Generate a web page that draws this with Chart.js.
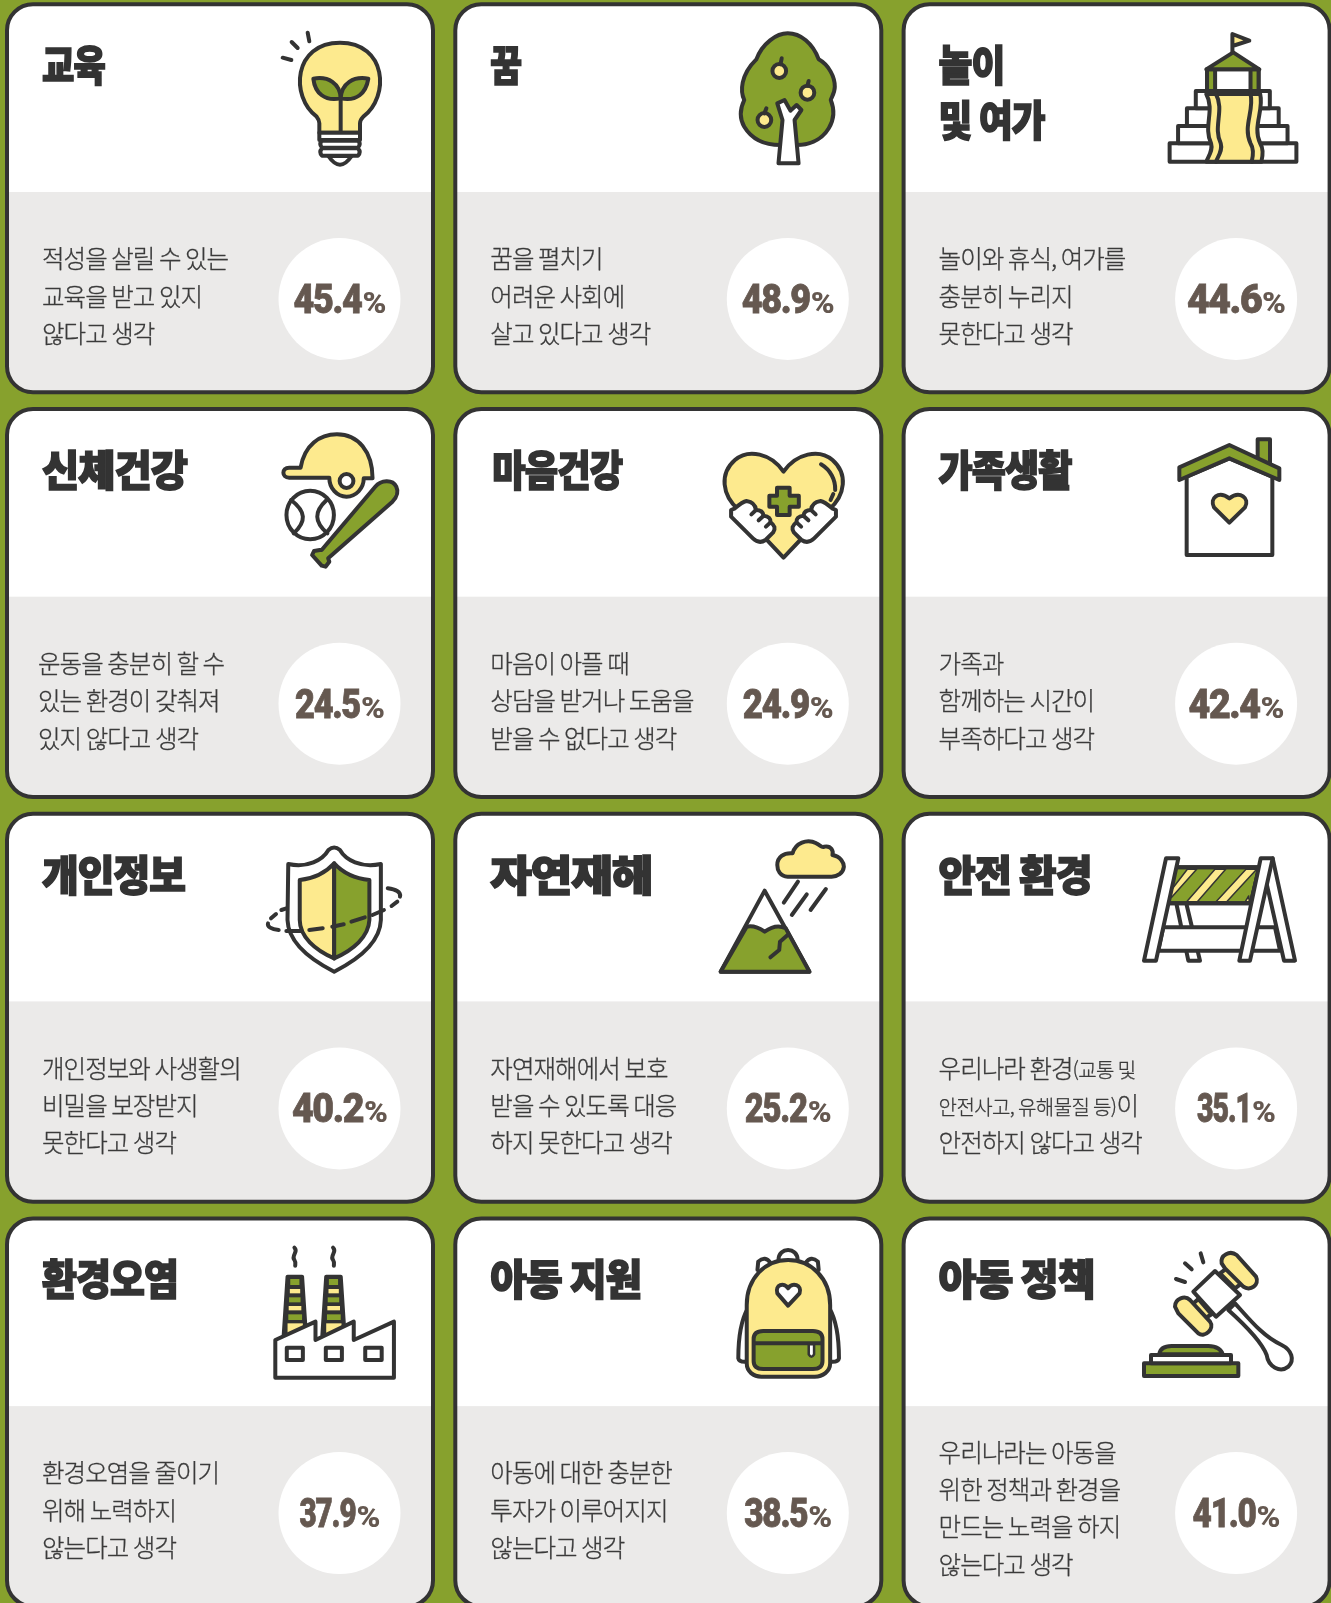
<!DOCTYPE html>
<html lang="ko"><head><meta charset="utf-8">
<style>html,body{margin:0;padding:0;background:#87a12d;overflow:hidden}canvas{display:block}</style>
<script src="https://cdn.jsdelivr.net/npm/chart.js@4/dist/chart.umd.min.js"></script>
</head><body><canvas id="c" width="1331" height="1603"></canvas>
<script>
const categories=['교육','꿈','놀이 및 여가','신체건강','마음건강','가족생활','개인정보','자연재해','안전 환경','환경오염','아동 지원','아동 정책'];
const titleLines=[['교육'],['꿈'],['놀이','및 여가'],['신체건강'],['마음건강'],['가족생활'],['개인정보'],['자연재해'],['안전 환경'],['환경오염'],['아동 지원'],['아동 정책']];
const titleFit=[[63],[31],[66,106],[145],[130],[133],[143],[162],[153],[136],[151],[156]];
const descLines=[
['적성을 살릴 수 있는','교육을 받고 있지','않다고 생각'],
['꿈을 펼치기','어려운 사회에','살고 있다고 생각'],
['놀이와 휴식, 여가를','충분히 누리지','못한다고 생각'],
['운동을 충분히 할 수','있는 환경이 갖춰져','있지 않다고 생각'],
['마음이 아플 때','상담을 받거나 도움을','받을 수 없다고 생각'],
['가족과','함께하는 시간이','부족하다고 생각'],
['개인정보와 사생활의','비밀을 보장받지','못한다고 생각'],
['자연재해에서 보호','받을 수 있도록 대응','하지 못한다고 생각'],
['우리나라 환경{(교통 및}','{안전사고, 유해물질 등)}이','안전하지 않다고 생각'],
['환경오염을 줄이기','위해 노력하지','않는다고 생각'],
['아동에 대한 충분한','투자가 이루어지지','않는다고 생각'],
['우리나라는 아동을','위한 정책과 환경을','만드는 노력을 하지','않는다고 생각']];
const values=[45.4,48.9,44.6,24.5,24.9,42.4,40.2,25.2,35.1,37.9,38.5,41.0];
const labelFit=[93,93,99,90,91,96,96,87,79,81,88,88];

const Y='#fdea8e',G='#87a12d',K='#333333',W='#ffffff';
const KR='"Noto Sans CJK KR"';
const e=(x,y,rx,ry)=>`M${x-rx} ${y}A${rx} ${ry} 0 1 0 ${x+rx} ${y}A${rx} ${ry} 0 1 0 ${x-rx} ${y}Z `;
const r=(a,b,c,d)=>`M${a} ${b}L${c} ${b}L${c} ${d}L${a} ${d}Z `;
const sz1=[0,0,3,3],sz2=[700,20,1568/631,3],sz3=[270,425,1568/600,3],sz4=[1150,430,3,3],sz5=[250,830,1568/600,3],sz6=[1130,840,3,3],sz7=[260,1235,1568/600,3],sz8=[1130,1235,3,3];
const chimney=d=>[
 [`M${72+d} 125L${110+d} 125L${120+d} 300L${62+d} 300Z`,K],
 [r(79+d,132,103+d,150),G,0],[r(78+d,162,105+d,175),Y,0],[r(76+d,187,106+d,202),G,0],[r(75+d,213,108+d,226),Y,0],[r(74+d,238,110+d,255),G,0],[r(72+d,265,112+d,295),Y,0],
 [`M${90+d} 38C${102+d} 50 ${80+d} 62 ${90+d} 75C${94+d} 82 ${92+d} 88 ${92+d} 92`,null]];
const icons=[
 [sz1,[
  ['M950 350C870 290 880 128 1020 128C1160 128 1170 290 1090 350Q1080 360 1080 370L1080 398L958 398L958 370Q958 360 950 350Z',Y],
  ['M1022 392L1022 285',null],
  ['M940 236C985 228 1020 250 1022 295C975 305 945 280 940 236Z',G],
  ['M1105 236C1060 228 1025 250 1022 295C1070 305 1098 280 1105 236Z',G],
  ['M985 468Q1020 520 1055 468Z',W],
  ['M958 398L1080 398L1080 420L958 420Z',W],
  ['M966 422L1074 422Q1084 432 1074 443L966 443Q956 432 966 422Z',W],
  ['M966 445L1074 445Q1084 456 1074 467L966 467Q956 456 966 445Z',W],
  ['M923 98L928 124M875 126L893 144M848 173L874 180',null]]],
 [sz2,[
  ['M140 118C155 70 190 40 218 40C250 40 280 70 295 118C320 135 335 170 335 200C335 220 325 235 325 240C335 270 335 295 320 325C300 365 265 375 240 375L200 375C165 375 130 360 110 320C98 295 100 265 110 240C100 215 100 165 140 118Z',G],
  ['M195 430L205 300L192 250L210 240L225 272L240 255L252 270L235 300L245 430Z',W],
  [e(197,153,17,21),Y],[e(267,218,17,21),Y],[e(160,300,17,21),Y],
  ['M200 133L203 115M267 197L270 183M160 280L165 265',null]]],
 [sz2,[
  [r(1167,370,1482,425),W],[r(1188,318,1460,370),W],[r(1210,265,1438,318),W],[r(1232,213,1416,265),W],
  [r(1260,148,1388,213),W],[r(1260,148,1280,213),G],[r(1368,148,1388,213),G],
  ['M1258 148L1325 97L1390 148Z',G],
  ['M1323 97L1323 42L1365 62L1323 78',Y],
  ['M1258 222C1280 270 1250 320 1270 370C1275 390 1265 405 1258 425L1395 425C1400 400 1400 385 1392 370C1372 320 1402 270 1392 222Z',Y],
  ['M1282 222C1304 270 1274 320 1294 370C1299 390 1289 405 1282 425M1368 222C1378 270 1348 320 1368 370C1376 385 1376 400 1371 425',null]]],
 [sz3,[
  ['M80 128C90 60 130 28 175 28C230 28 268 80 268 160L245 160C245 190 225 215 200 215C175 215 155 190 155 158L50 158C30 158 30 128 50 128Z',Y],
  [e(200,168,18,21),W],
  [e(105,270,62,73),W],
  ['M55 225C95 260 95 290 62 325M148 225C115 260 115 290 150 325',null],
  ['M135 375L275 185C290 165 320 162 330 185C338 205 330 218 320 230L152 400L155 410L145 425L135 422L110 390L115 378L130 375Z',G]]],
 [sz3,[
  ['M1342 140C1310 85 1250 70 1215 105C1175 145 1180 210 1225 255L1342 398L1460 255C1505 210 1510 145 1470 105C1435 70 1375 85 1342 140Z',Y],
  ['M1440 118C1465 135 1478 165 1477 195M1472 207L1465 225',null],
  ['M1325 188L1358 188L1358 212L1382 212L1382 245L1358 245L1358 270L1325 270L1325 245L1305 245L1305 212L1325 212Z',G],
  ['M1205 255L1205 275L1262 340Q1278 358 1295 345L1315 322Q1325 305 1308 292Q1310 275 1290 272Q1288 255 1270 255Q1268 232 1245 228Q1235 230 1215 250Z',W],
  ['M1479 255L1479 275L1422 340Q1406 358 1389 345L1369 322Q1359 305 1376 292Q1374 275 1394 272Q1396 255 1414 255Q1416 232 1439 228Q1449 230 1469 250Z',W],
  ['M1270 255L1258 268M1290 272L1277 286M1308 292L1296 305M1414 255L1426 268M1394 272L1407 286M1376 292L1388 305',null]]],
 [sz4,[
  [r(323,28,360,105),G],
  ['M110 140L110 375L367 375L367 140L238 85Z',W],
  ['M88 112L238 45L388 115L388 150L238 85L88 150Z',G],
  ['M238 278L192 232C178 205 205 180 238 205C270 180 300 205 285 232Z',Y]]],
 [sz5,[
  ['M100 102C150 115 190 90 205 60Q220 45 235 60C250 90 290 115 342 102L342 270C340 340 280 390 220 425C160 390 100 340 98 270Z',W],
  ['M220 100C200 125 170 145 130 150L130 270C130 320 170 360 220 385Z',Y],
  ['M220 100C240 125 270 145 312 150L312 270C310 320 270 360 220 385Z',G],
  ['M360 175C380 178 395 185 392 200M385 215L370 228M350 240L320 255M300 262L265 275M245 283L215 290M190 295L155 300M135 303L95 303M75 300C55 298 45 290 47 280M55 265L68 252M82 240L95 235',null]]],
 [sz5,[
  ['M1345 182L1462 425L1230 425Z',W],
  ['M1298 290Q1320 285 1345 305Q1375 280 1400 295L1462 425L1230 425Z',G],
  ['M1405 315L1385 335L1383 360L1360 382',null],
  ['M1405 140C1385 140 1378 120 1378 105C1378 80 1395 68 1418 70C1425 40 1455 25 1480 40C1490 45 1495 55 1500 50C1520 45 1525 65 1522 75C1545 80 1552 100 1552 110C1550 130 1535 140 1520 140Z',Y],
  ['M1432 155L1395 218M1455 193L1416 255M1505 177L1465 240',null]]],
 [sz6,[
  ['M140 195L175 362L210 362L170 195',W],
  ['M100 262L435 262L450 332L85 332Z',W],
  ['M135 82L388 82L362 190L112 190Z',G],
  ['M172 88L200 88L125 172L120 155Z',Y,1.5],['M255 88L287 88L202 185L170 185Z',Y,1.5],['M348 88L380 88L290 185L258 185Z',Y,1.5],['M356 168L358 185L346 185Z',Y,1.5],
  ['M135 82L388 82L362 190L112 190Z',null],
  ['M428 55L495 362L462 362L395 65',W],
  ['M392 55L428 55L360 362L328 362Z',W],
  ['M108 55L145 55L78 362L42 362Z',W]]],
 [sz7,[
  ...chimney(0),...chimney(101),
  ['M40 315L145 260L145 315L245 260L245 315L350 260L350 428L40 428Z',W],
  [r(70,338,112,375),W],[r(172,338,214,375),W],[r(275,338,318,375),W]]],
 [sz7,[
  ['M1355 75C1355 35 1405 35 1405 75',W],
  ['M1300 105L1302 80Q1320 60 1335 85',W],['M1460 105L1458 80Q1440 60 1425 85',W],
  ['M1275 220C1255 260 1250 310 1250 370Q1252 382 1272 380',W],['M1488 220C1508 260 1513 310 1513 370Q1511 382 1491 380',W],
  ['M1380 75C1440 75 1490 130 1490 210L1490 385C1490 410 1470 425 1450 425L1310 425C1290 425 1272 410 1272 385L1272 210C1272 130 1320 75 1380 75Z',Y],
  ['M1380 212L1352 175C1345 150 1370 140 1380 160C1390 140 1418 150 1410 175Z',W],
  ['M1315 288L1445 288Q1470 288 1470 312L1470 378Q1470 402 1445 402L1315 402Q1290 402 1290 378L1290 312Q1290 288 1315 288Z',G],
  ['M1292 325L1468 325',null],
  ['M1434 328L1434 358Q1441 372 1448 358L1448 328Z',W,2.5]]],
 [sz8,[
  [r(42,385,325,423),G],[r(63,360,303,385),W],
  ['M88 358C90 340 105 333 125 333L235 333C260 333 275 345 278 358Z',G],
  ['M295 225L315 205C360 255 400 305 455 330C485 345 495 375 475 395C450 415 415 395 410 360C395 320 345 270 295 225Z',W],
  ['M255 108L330 180L258 245L190 170Z',W],
  ['M205 192L245 238L225 250L185 210Z',Y],['M270 115L290 100L335 145L315 160Z',Y],
  ['M135 215C135 190 165 180 180 195L240 260C255 280 225 310 205 295L145 235Z',Y],
  ['M275 85C270 60 300 45 320 60L378 125C390 150 360 170 340 155L285 100Z',Y],
  ['M212 55L220 82M165 85L185 103M138 132L165 141',null]]]
];

function drawIcon(ctx,def){
 const [[ox,oy,sx,sy],shapes]=def;
 ctx.lineJoin='round';ctx.lineCap='round';ctx.strokeStyle=K;
 const m=new DOMMatrix([1/sx,0,0,1/sy,ox,oy]);
 for(const [d,fill,lw] of shapes){
  const p=new Path2D();p.addPath(new Path2D(d),m);
  if(fill){ctx.fillStyle=fill;ctx.fill(p);}
  const w=lw===undefined?4:lw;
  if(w>0){ctx.lineWidth=w;ctx.stroke(p);}
 }
}
function rr(ctx,x,y,w,h,rad){ctx.beginPath();ctx.roundRect(x,y,w,h,rad);}
function drawDesc(ctx,line,x,y){
 const parts=line.split(/(\{[^}]*\})/).filter(Boolean);
 let cx=x;
 ctx.strokeStyle=ctx.fillStyle;ctx.lineWidth=.3;ctx.lineJoin='round';
 for(const part of parts){
  const small=part[0]==='{';const t=small?part.slice(1,-1):part;
  ctx.font=(small?'300 20px ':'300 24.5px ')+KR;
  ctx.letterSpacing=small?'-0.6px':'-0.95px';
  ctx.strokeText(t,cx,y);ctx.fillText(t,cx,y);cx+=ctx.measureText(t).width;
 }
 ctx.letterSpacing='0px';
}
const cards={id:'cards',
 beforeDatasetsDraw(chart){
  const {ctx,scales:{x:sx,y:sy}}=chart;
  ctx.save();
  ctx.fillStyle=G;ctx.fillRect(0,0,chart.width,chart.height);
  chart.data.datasets[0].data.forEach((d,i)=>{
   const cx=sx.getPixelForValue(d.x),cy=sy.getPixelForValue(d.y);
   const L=cx-332.5,T=cy-294.7,w=426,h=388;
   rr(ctx,L,T,w,h,26);ctx.fillStyle=W;ctx.fill();
   ctx.save();rr(ctx,L,T,w,h,26);ctx.clip();
   ctx.fillStyle='#ebeae9';ctx.fillRect(L,cy-107,w,h);ctx.restore();
   rr(ctx,L,T,w,h,26);ctx.strokeStyle=K;ctx.lineWidth=4;ctx.stroke();
   ctx.fillStyle=K;ctx.textBaseline='alphabetic';ctx.textAlign='left';
   titleLines[i].forEach((t,k)=>{
    ctx.font='900 41px '+KR;ctx.letterSpacing='-1px';
    const f=titleFit[i][k]/ctx.measureText(t).width;
    ctx.save();ctx.translate(L+35+(i===4?2:0),T+77+k*55);ctx.scale(f,1.02);
    ctx.lineJoin='miter';ctx.lineWidth=1.6;ctx.strokeStyle=K;
    ctx.strokeText(t,0,0);ctx.fillText(t,0,0);ctx.restore();
   });
   ctx.letterSpacing='0px';
   ctx.fillStyle='#3a3a3a';
   const lines=descLines[i],mid=cy-7-(lines.length>3?2:0);
   lines.forEach((t,k)=>{drawDesc(ctx,t,(i===3?L+31:L+35),mid+(k-(lines.length-1)/2)*37.3+13.5);});
   drawIcon(ctx,icons[i]);
  });
  ctx.restore();
 },
 afterDatasetsDraw(chart){
  const {ctx}=chart;
  ctx.save();ctx.fillStyle='#655850';ctx.strokeStyle='#655850';ctx.textBaseline='alphabetic';ctx.textAlign='left';
  chart.getDatasetMeta(0).data.forEach((el,i)=>{
   const t=values[i].toFixed(1),total=labelFit[i],pctW=24,digW=total-pctW-1;
   ctx.font='900 40px Roboto';ctx.letterSpacing='-1.5px';
   const f=digW/ctx.measureText(t).width;
   const x0=el.x+.5-total/2,yb=el.y+14;
   ctx.save();ctx.translate(x0,yb);ctx.scale(f,1);ctx.lineWidth=.8;ctx.strokeText(t,0,0);ctx.fillText(t,0,0);ctx.restore();
   ctx.font='900 31px Roboto';ctx.letterSpacing='0px';
   const g=pctW/ctx.measureText('%').width;
   ctx.save();ctx.translate(x0+digW+1,yb);ctx.scale(g,.95);ctx.fillText('%',0,0);ctx.restore();
  });
  ctx.restore();
 }
};
const pitchX=448.3,pitchY=404.7,c0x=339.5,c0y=299;
new Chart(document.getElementById('c'),{
 type:'scatter',
 data:{labels:categories,datasets:[{label:'비율(%)',data:values.map((v,i)=>({x:i%3,y:Math.floor(i/3),v})),
  pointRadius:61,pointHoverRadius:61,pointBackgroundColor:W,pointBorderWidth:0,clip:false}]},
 options:{responsive:false,animation:false,events:[],layout:{padding:0,autoPadding:false},
  plugins:{legend:{display:false},tooltip:{enabled:false}},
  scales:{
   x:{type:'linear',display:false,min:-c0x/pitchX,max:(1331-c0x)/pitchX},
   y:{type:'linear',display:false,reverse:true,min:-c0y/pitchY,max:(1603-c0y)/pitchY}}},
 plugins:[cards]
});
</script></body></html>
